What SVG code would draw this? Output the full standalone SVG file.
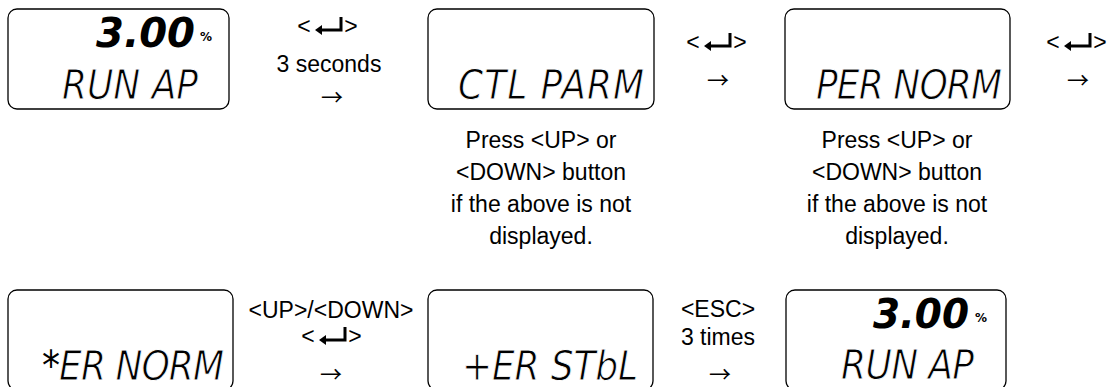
<svg xmlns="http://www.w3.org/2000/svg" xmlns:xlink="http://www.w3.org/1999/xlink" width="1114" height="387" viewBox="0 0 1114 387">
<style>
.box{fill:#fff;stroke:#000;stroke-width:1.3}
.lcd{font-family:"DejaVu Sans Condensed","DejaVu Sans",sans-serif;font-stretch:condensed;font-size:40px;font-style:oblique;fill:#000;stroke:#fff;stroke-width:0.8}
.ast{stroke:none}
.big{font-family:"DejaVu Sans","Liberation Sans",sans-serif;font-size:41px;font-weight:bold;font-style:oblique;fill:#000}
.pct{font-family:"DejaVu Sans","Liberation Sans",sans-serif;font-size:12px;font-weight:bold;fill:#000}
.lbl{font-family:"Liberation Sans",Arial,sans-serif;font-size:23px;fill:#000;text-anchor:middle}
.arr{font-family:"Noto Sans CJK SC","DejaVu Sans",sans-serif;font-size:22px;fill:#000;text-anchor:middle}
</style>
<defs>
<g id="enter">
<path d="M-6,-4 H14 V-17" fill="none" stroke="#000" stroke-width="3"/>
<polygon points="-12,-4 -5,-9 -5,1" fill="#000"/>
</g>
</defs>

<g id="node-run1">
<rect class="box" x="8" y="9" width="221" height="100" rx="9"/>
<text class="big" x="96" y="47" textLength="99" lengthAdjust="spacingAndGlyphs">3.00</text>
<text class="pct" x="200" y="41">%</text>
<text class="lcd" x="62" y="99" textLength="136" lengthAdjust="spacing">RUN AP</text>
</g>

<g id="node-ctlparm">
<rect class="box" x="428" y="9" width="226" height="100" rx="9"/>
<text class="lcd" x="458" y="99" textLength="186" lengthAdjust="spacing">CTL PARM</text>
</g>

<g id="node-pernorm">
<rect class="box" x="785" y="9" width="225" height="100" rx="9"/>
<text class="lcd" x="816" y="99" textLength="186" lengthAdjust="spacing">PER NORM</text>
</g>

<g id="note-ctlparm">
<text class="lbl" x="541" y="148">Press &lt;UP&gt; or</text>
<text class="lbl" x="541" y="180">&lt;DOWN&gt; button</text>
<text class="lbl" x="541" y="212">if the above is not</text>
<text class="lbl" x="541" y="244">displayed.</text>
</g>

<g id="note-pernorm">
<text class="lbl" x="897" y="148">Press &lt;UP&gt; or</text>
<text class="lbl" x="897" y="180">&lt;DOWN&gt; button</text>
<text class="lbl" x="897" y="212">if the above is not</text>
<text class="lbl" x="897" y="244">displayed.</text>
</g>

<g id="node-xernorm">
<rect class="box" x="8" y="290" width="225" height="100" rx="9"/>
<text class="lcd" x="42" y="380" textLength="182" lengthAdjust="spacing"><tspan class="ast">*</tspan>ER NORM</text>
</g>

<g id="node-erstbl">
<rect class="box" x="428" y="290" width="225" height="100" rx="9"/>
<text class="lcd" x="462" y="380" textLength="176" lengthAdjust="spacing">+ER STbL</text>
</g>

<g id="node-run2">
<rect class="box" x="786" y="290" width="220" height="100" rx="9"/>
<text class="big" x="873" y="328" textLength="96" lengthAdjust="spacingAndGlyphs">3.00</text>
<text class="pct" x="975" y="322">%</text>
<text class="lcd" x="841" y="379" textLength="133" lengthAdjust="spacing">RUN AP</text>
</g>

<g id="connectors">
<g id="step1">
<text class="lbl" x="304" y="34">&lt;</text>
<use xlink:href="#enter" href="#enter" transform="translate(327,34)"/>
<text class="lbl" x="351" y="34">&gt;</text>
<text class="lbl" x="329" y="72">3 seconds</text>
<text class="arr" x="332" y="105">→</text>
</g>
<g id="step2">
<text class="lbl" x="693" y="50">&lt;</text>
<use xlink:href="#enter" href="#enter" transform="translate(716,50)"/>
<text class="lbl" x="740" y="50">&gt;</text>
<text class="arr" x="718" y="88">→</text>
</g>
<g id="step3">
<text class="lbl" x="1053" y="50">&lt;</text>
<use xlink:href="#enter" href="#enter" transform="translate(1076,50)"/>
<text class="lbl" x="1100" y="50">&gt;</text>
<text class="arr" x="1078" y="88">→</text>
</g>
<g id="step4">
<text class="lbl" x="331" y="318">&lt;UP&gt;/&lt;DOWN&gt;</text>
<text class="lbl" x="308" y="344">&lt;</text>
<use xlink:href="#enter" href="#enter" transform="translate(331,344)"/>
<text class="lbl" x="355" y="344">&gt;</text>
<text class="arr" x="331" y="382">→</text>
</g>
<g id="step5">
<text class="lbl" x="718" y="317">&lt;ESC&gt;</text>
<text class="lbl" x="718" y="345">3 times</text>
<text class="arr" x="720" y="382">→</text>
</g>
</g>
</svg>
